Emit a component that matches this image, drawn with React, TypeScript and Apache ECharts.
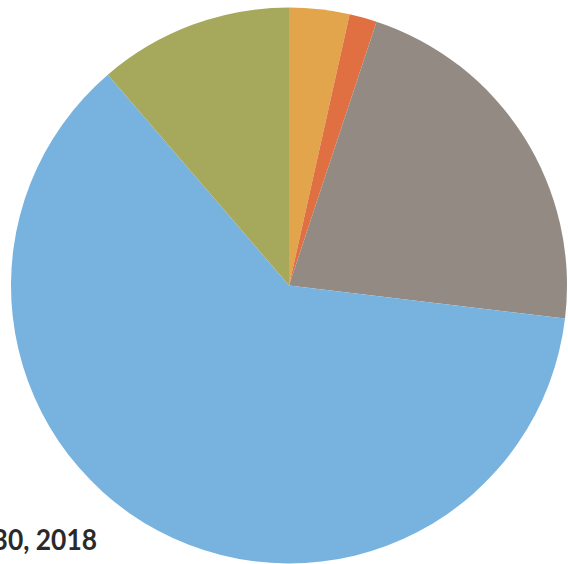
import React, { useEffect, useRef } from "react";
import * as echarts from "echarts";

const categories = ["Orange", "Red", "Gray", "Blue", "Olive"];
const values = [3.5, 1.6, 21.8, 61.8, 11.3];
const colors = ["#E2A54B", "#E06F42", "#928A83", "#78B3E0", "#A6A95C"];
const captionText = "30, 2018";

export default function App() {
  const ref = useRef<HTMLDivElement>(null);
  useEffect(() => {
    if (!ref.current) return;
    const chart = echarts.init(ref.current, undefined, { renderer: "svg" });
    chart.setOption({
      animation: false,
      backgroundColor: "#ffffff",
      series: [
        {
          type: "pie",
          center: [289, 285.5],
          radius: 278,
          startAngle: 90,
          clockwise: true,
          label: { show: false },
          labelLine: { show: false },
          emphasis: { disabled: true },
          itemStyle: { borderWidth: 0 },
          data: categories.map((c, i) => ({
            name: c,
            value: values[i],
            itemStyle: { color: colors[i] },
          })),
        },
      ],
      graphic: [
        {
          type: "text",
          x: 97,
          y: 539,
          scaleX: 0.91,
          z: 10,
          style: {
            text: captionText,
            font: "bold 29px Lato",
            fill: "#2a2a2a",
            textAlign: "right",
            textVerticalAlign: "middle",
          },
        },
      ],
    });
    return () => chart.dispose();
  }, []);
  return (
    <div
      ref={ref}
      style={{ position: "absolute", left: 0, top: 0, width: 568, height: 564 }}
    />
  );
}
